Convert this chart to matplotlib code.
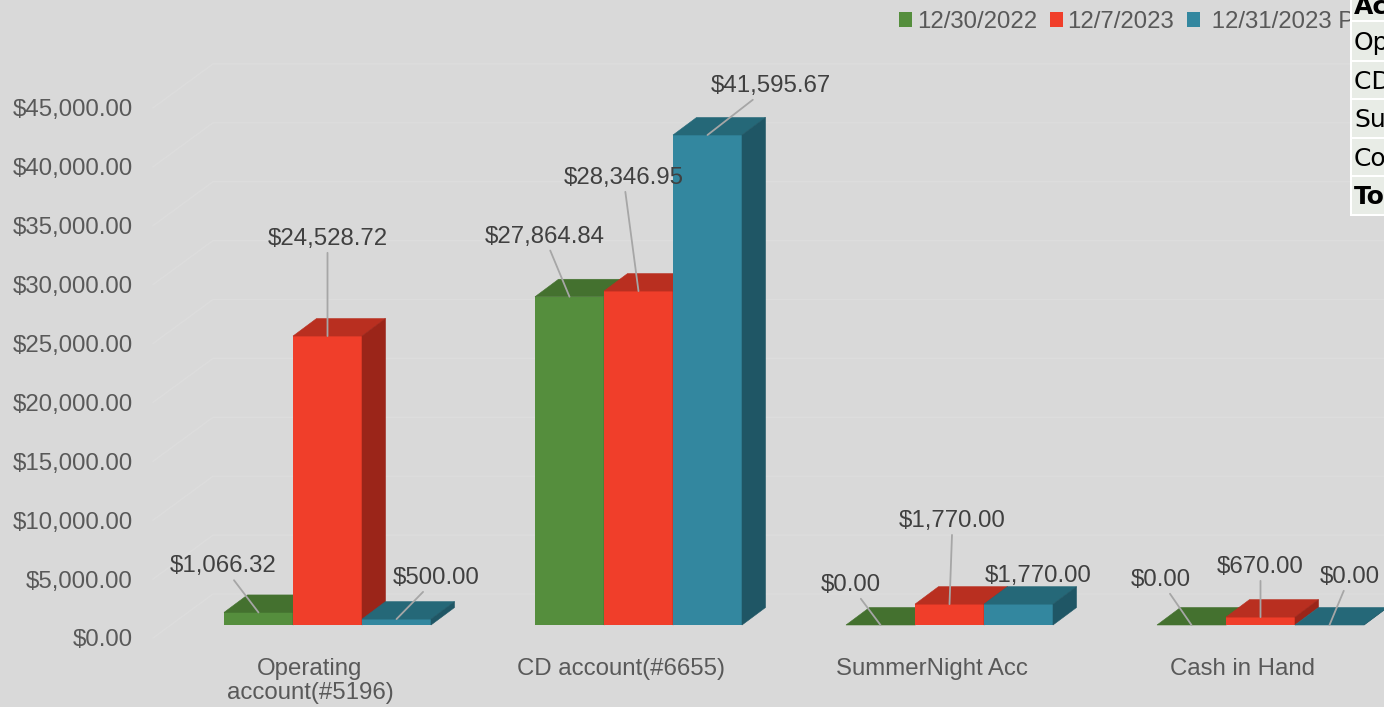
import numpy as np
import matplotlib.pyplot as plt
from matplotlib.patches import Polygon, Rectangle, Patch

# data
categories = ['Operating\naccount(#5196)', 'CD account(#6655)', 'SummerNight Acc', 'Cash in Hand']
series = ['12/30/2022', '12/7/2023', ' 12/31/2023 Projected']
bal_2022_12_30 = [1066.32, 27864.84, 0.00, 0.00]
bal_2023_12_07 = [24528.72, 28346.95, 1770.00, 670.00]
bal_2023_12_31 = [500.00, 41595.67, 1770.00, 0.00]
yticks = np.arange(0, 45001, 5000)
table_rows = ['Account', 'Operating', 'CD account', 'SummerNight', 'Co', 'Total']

# styling
front_c = ['#558e3d', '#f03e2a', '#33879f']
top_c = ['#44712f', '#b92f20', '#256878']
side_c = ['#3a6129', '#9b2519', '#1f5665']
# label offsets in px (right, up) from the bar's front-top centre
label_off = [[(-35, 46), (-25, 60), (-30, 40), (-31, 45)],
             [(0, 97), (-15, 113), (3, 83), (0, 50)],
             [(40, 41), (63, 49), (20, 28), (20, 48)]]

W, H = 1384, 707
PX_CAT = 311.0      # px per category
PX_K = 11.78        # px per 1000 $
X0, Y0 = 310, 638   # label plane origin (px, from top)
FS = 17.28

plt.rcParams['font.family'] = ['Liberation Sans', 'DejaVu Sans']

def dxc(p):
    return p / PX_CAT

def dyv(p):
    return p / PX_K * 1000

fig = plt.figure(figsize=(W / 100, H / 100), dpi=100, facecolor='#d9d9d9')
ax = fig.add_axes([150 / W, (H - Y0) / H, (W - 150) / W, Y0 / H])
ax.set_xlim((150 - X0) / PX_CAT, (W - X0) / PX_CAT)
ax.set_ylim(0, dyv(Y0))
ax.patch.set_visible(False)
for s in ax.spines.values():
    s.set_visible(False)

# gridlines: side wall then back wall
xl = (153 - X0) / PX_CAT
xmax = ax.get_xlim()[1]
for v in yticks:
    ax.plot([xl, xl + dxc(60), xmax], [v, v + dyv(44), v + dyv(44)],
            color='#dddddd', lw=1, zorder=0, clip_on=False)

bar_w = 69 / PX_CAT
bottom = dyv(13)
ddx, ddy = dxc(23.5), dyv(17.5)
all_vals = [bal_2022_12_30, bal_2023_12_07, bal_2023_12_31]
for s, vals in enumerate(all_vals):
    xc = np.arange(len(categories)) + dxc(17.5) + (s - 1) * bar_w
    z = 2 + 3 * s
    ax.bar(xc, vals, width=bar_w, bottom=bottom, color=front_c[s], zorder=z,
           label=series[s])
    for i, v in enumerate(vals):
        a, b = xc[i] - bar_w / 2, xc[i] + bar_w / 2
        top = bottom + v
        ax.add_patch(Polygon([(a, top), (b, top), (b + ddx, top + ddy), (a + ddx, top + ddy)],
                             facecolor=top_c[s], edgecolor=top_c[s], lw=0.4, zorder=z + 1))
        ax.add_patch(Polygon([(b, bottom), (b, top), (b + ddx, top + ddy), (b + ddx, bottom + ddy)],
                             facecolor=side_c[s], edgecolor=side_c[s], lw=0.4, zorder=z + 2))
        ox, oy = label_off[s][i]
        arrow = None
        if np.hypot(ox, oy) > 40:
            arrow = dict(arrowstyle='-', color='#a6a6a6', lw=1.3, shrinkA=0, shrinkB=0)
        ax.annotate(f'${v:,.2f}', xy=(xc[i], top), xytext=(ox * 0.72, oy * 0.72),
                    textcoords='offset points', ha='center', va='center',
                    fontsize=FS, color='#404040', arrowprops=arrow, zorder=20)

ax.set_yticks(yticks)
ax.set_yticklabels([f'${v:,.2f}' for v in yticks])
ax.tick_params(axis='y', length=0, pad=17 * 0.72, labelsize=FS, labelcolor='#595959')
ax.set_xticks(range(len(categories)))
ax.set_xticklabels(categories)
ax.tick_params(axis='x', length=0, pad=20 * 0.72, labelsize=FS, labelcolor='#595959')
for t in ax.get_xticklabels():
    t.set_linespacing(1.12)

handles = [Patch(facecolor=c, edgecolor='none') for c in front_c]
fig.legend(handles, series, loc='center left', bbox_to_anchor=(899 / W, 1 - 22 / H),
           ncol=3, frameon=False, fontsize=FS, handlelength=0.54, handleheight=0.54,
           handletextpad=0.2, columnspacing=0.54, borderpad=0, borderaxespad=0,
           labelcolor='#595959')

# table at the right edge, mostly cut off
def fx(x):
    return x / W

def fy(y):
    return 1 - y / H

fig.add_artist(Rectangle((fx(1350), fy(216)), fx(W) - fx(1350), fy(0) - fy(216),
                         transform=fig.transFigure, facecolor='white', edgecolor='none', zorder=10))
row_spans = [(0, 20), (22, 60), (62, 98), (100, 137), (139, 175), (177, 214)]
for k, (y1, y2) in enumerate(row_spans):
    fig.add_artist(Rectangle((fx(1352), fy(y2)), fx(W) - fx(1352), fy(y1) - fy(y2),
                             transform=fig.transFigure, facecolor='#e8ece6',
                             edgecolor='none', zorder=11))
    bold = k in (0, len(row_spans) - 1)
    base = 14 if k == 0 else (y1 + y2) / 2 + 9
    fig.text(fx(1354), fy(base), table_rows[k], fontsize=18, va='baseline', ha='left',
             color='black', family='DejaVu Sans', fontweight='bold' if bold else 'normal',
             zorder=12)

fig.savefig('out.png', dpi=100, facecolor=fig.get_facecolor())
